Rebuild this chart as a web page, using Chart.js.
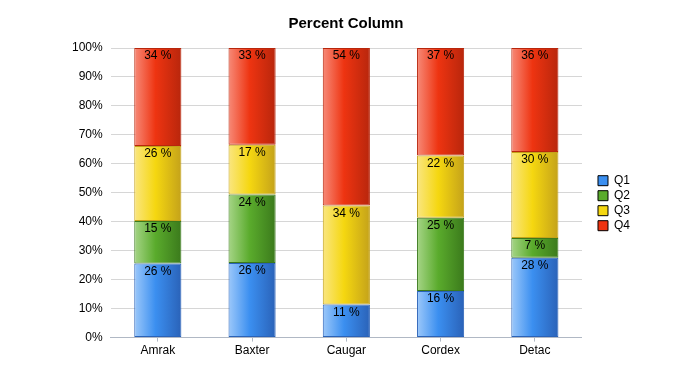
<!DOCTYPE html>
<html>
<head>
<meta charset="utf-8">
<script src="https://cdn.jsdelivr.net/npm/chart.js@4/dist/chart.umd.min.js"></script>
<style>
  body { margin: 0; background: #fff; }
</style>
</head>
<body>
<canvas id="percentChart" width="700" height="375"></canvas>
<script>
const categories = ["Amrak", "Baxter", "Caugar", "Cordex", "Detac"];
const q1 = [25.6, 25.8, 11.4, 16.1, 27.6];
const q2 = [14.7, 23.6, 0, 25.3, 6.8];
const q3 = [25.9, 17.2, 34.2, 21.5, 29.7];
const q4 = [33.8, 33.4, 54.4, 37.1, 35.9];
const yTicks = [0, 10, 20, 30, 40, 50, 60, 70, 80, 90, 100];

// light / mid / dark shades per series
const shades = {
  Q1: ["#9cc8fa", "#3b8ff0", "#2a62b8"],
  Q2: ["#a6d587", "#5aab2c", "#3b7a1c"],
  Q3: ["#fae681", "#f5d710", "#c4a21a"],
  Q4: ["#f78a78", "#ee3411", "#b8260c"],
};
const solid = { Q1: "#3b8ff0", Q2: "#5aab2c", Q3: "#f5d710", Q4: "#ee3411" };
const font = "'Liberation Sans', Arial, sans-serif";

function barGradient(name) {
  return (context) => {
    const chart = context.chart;
    const xs = chart.scales.x;
    if (!xs || !chart.chartArea) return solid[name];
    const x = xs.getPixelForValue(context.dataIndex);
    const w = (xs.width / categories.length) * 0.5;
    const g = chart.ctx.createLinearGradient(x - w / 2, 0, x + w / 2, 0);
    g.addColorStop(0, shades[name][0]);
    g.addColorStop(0.45, shades[name][1]);
    g.addColorStop(1, shades[name][2]);
    return g;
  };
}

function makeSet(name, values) {
  return {
    label: name,
    data: values,
    backgroundColor: barGradient(name),
    borderColor: shades[name][2],
    borderWidth: 1,
    borderSkipped: false,
    categoryPercentage: 1,
    barPercentage: 0.5,
  };
}

// draws "26 %" near the top of every segment
const segmentLabels = {
  id: "segmentLabels",
  afterDatasetsDraw(chart) {
    const ctx = chart.ctx;
    ctx.save();
    ctx.font = "12px " + font;
    ctx.fillStyle = "#000";
    ctx.textAlign = "center";
    ctx.textBaseline = "top";
    chart.data.datasets.forEach((ds, i) => {
      chart.getDatasetMeta(i).data.forEach((bar, j) => {
        const v = ds.data[j];
        if (!v) return;
        ctx.fillText(Math.round(v) + " %", bar.x, bar.y + 2);
      });
    });
    ctx.restore();
  },
};

const ctx = document.getElementById("percentChart").getContext("2d");
const percentChart = new Chart(ctx, {
  type: "bar",
  data: {
    labels: categories,
    datasets: [makeSet("Q1", q1), makeSet("Q2", q2), makeSet("Q3", q3), makeSet("Q4", q4)],
  },
  plugins: [segmentLabels],
  options: {
    responsive: false,
    animation: false,
    layout: { padding: { left: 52, right: 60, top: 6, bottom: 15 } },
    plugins: {
      title: {
        display: true,
        text: "Percent Column",
        color: "#000",
        font: { family: font, size: 15, weight: "bold" },
        padding: { top: 9, bottom: 15 },
      },
      legend: {
        position: "right",
        align: "center",
        title: { display: true, text: " ", padding: { top: 26, bottom: 0 }, font: { size: 12 } },
        labels: {
          color: "#000",
          boxWidth: 10,
          boxHeight: 10,
          padding: 3,
          font: { family: font, size: 12 },
          generateLabels: (chart) =>
            chart.data.datasets.map((ds, i) => ({
              text: ds.label,
              fillStyle: solid[ds.label],
              strokeStyle: "#000",
              fontColor: "#000",
              lineWidth: 1,
              hidden: false,
              datasetIndex: i,
            })),
        },
      },
      tooltip: { enabled: false },
    },
    scales: {
      x: {
        stacked: true,
        border: { color: "#b0b8c4" },
        grid: { display: true, drawOnChartArea: false, offset: false, tickLength: 4, color: "#b0b8c4" },
        ticks: { color: "#000", padding: 2, font: { family: font, size: 12 } },
      },
      y: {
        stacked: true,
        min: 0,
        max: 100,
        afterBuildTicks: (axis) => { axis.ticks = yTicks.map((v) => ({ value: v })); },
        afterFit: (axis) => { axis.width += 12; },
        border: { display: false },
        grid: { color: "#d6d6d6", drawTicks: false },
        ticks: {
          color: "#000",
          padding: 8,
          font: { family: font, size: 12 },
          callback: (v) => v + "%",
        },
      },
      // empty spacer between plot and legend
      gap: {
        type: "linear",
        position: "right",
        display: true,
        grid: { display: false },
        border: { display: false },
        ticks: { display: false },
        afterFit: (axis) => { axis.width = 13; },
      },
    },
  },
});
</script>
</body>
</html>
